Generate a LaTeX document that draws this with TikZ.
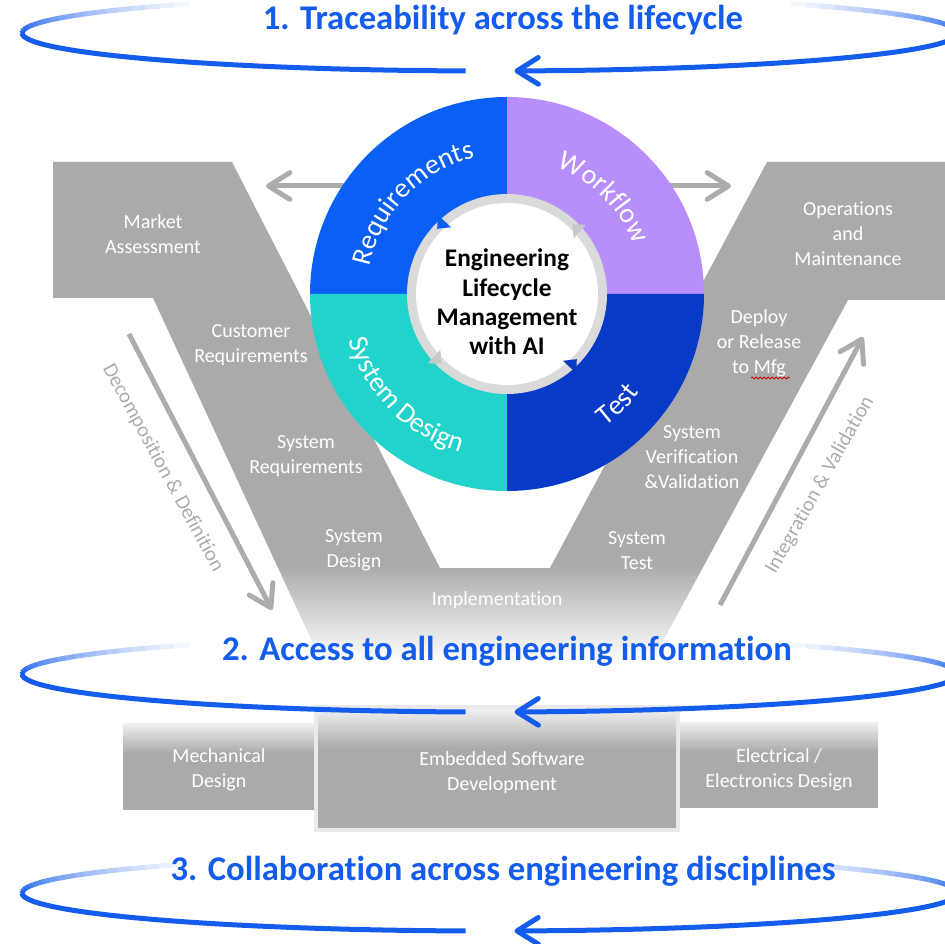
\documentclass[tikz,border=0pt]{standalone}
\usepackage{fontspec}
\setmainfont{Carlito}[Ligatures={TeX,NoCommon}, RawFeature={-liga;-clig;-calt;-dlig}]
\usetikzlibrary{arrows.meta}
\usetikzlibrary{decorations.text}
\usetikzlibrary{decorations.pathmorphing}
\tikzset{every picture/.style={line width=0.75pt}}

\definecolor{vgray}{RGB}{170,170,170}
\definecolor{boxtop}{RGB}{240,240,240}
\definecolor{titleblue}{RGB}{20,92,235}
\definecolor{reqblue}{RGB}{10,96,245}
\definecolor{wflilac}{RGB}{183,142,250}
\definecolor{sdteal}{RGB}{34,211,204}
\definecolor{testblue}{RGB}{8,58,200}
\definecolor{ringgray}{RGB}{218,218,218}
\definecolor{tipgray}{RGB}{200,200,200}
\definecolor{arrowgray}{RGB}{172,172,172}
\definecolor{framegray}{RGB}{234,234,234}

\newcommand{\ringfont}{\fontsize{21}{24}\selectfont}

\tikzset{
  vlabel/.style={text=white, align=center, inner sep=0.75pt, font=\fontsize{15}{18.75}\selectfont},
  sidetext/.style={text=arrowgray, inner sep=0.75pt, font=\fontsize{15.5}{18}\selectfont},
  title/.style={text=titleblue, inner sep=0.75pt, font=\bfseries\fontsize{26}{30}\selectfont},
  hubtext/.style={text=black, align=center, inner sep=0.75pt, font=\bfseries\fontsize{19}{22}\selectfont},
  ringtext/.style={decorate, decoration={text along path, text={|\ringfont|#1}, text align=center, text color=white}},
  barb/.style={-{Straight Barb[length=16pt,width=20pt,round]}},
  loopline/.style={draw=titleblue, line width=3.75pt},
  grayarrow/.style={draw=arrowgray, line width=3.75pt, barb},
  ringtip/.style={draw=ringgray, line width=6pt, -{Triangle[length=8pt,width=13pt,color=#1]}},
  boxfade/.style={top color=boxtop, bottom color=vgray}
}

\begin{document}
\begin{tikzpicture}[x=0.75pt,y=0.75pt,yscale=-1,xscale=1]
\useasboundingbox (0,0) rectangle (945,944);

%Shape: V model, fading out at the bottom
\begin{scope}
\clip (53,162) -- (232,162) -- (440,568) -- (550,568) -- (767,162) -- (945,162) -- (945,300) -- (848,300) -- (650,665) -- (323,665) -- (153,298) -- (53,298) -- cycle;
\fill [color=vgray] (0,150) rectangle (945,566);
\shade [top color=vgray, bottom color=white] (0,565) rectangle (945,662);
\end{scope}

%Shape: gray arrows beside the wheel
\coordinate (reqTail) at (345,186);
\coordinate (reqHead) at (266,186);
\coordinate (wfTail) at (668,186);
\coordinate (wfHead) at (731,186);
\draw [grayarrow] (reqTail) -- (reqHead);
\draw [grayarrow] (wfTail) -- (wfHead);

%Shape: side arrows of the V
\coordinate (decTail) at (129,334);
\coordinate (decHead) at (272,610);
\coordinate (intTail) at (720,605);
\coordinate (intHead) at (863,337);
\draw [grayarrow] (decTail) -- (decHead);
\draw [grayarrow] (intTail) -- (intHead);

% Text Node
\node [sidetext, rotate=-61.5] (decomp) at (163,468) {Decomposition \& Definition};
% Text Node
\node [sidetext, rotate=60.5] (integ) at (820,485) {Integration \& Validation};

%Shape: wheel quadrants
\fill [color=reqblue] (507,294) -- ++(-90:197) arc (-90:-180:197) -- cycle;
\fill [color=wflilac] (507,294) -- ++(0:197) arc (0:-90:197) -- cycle;
\fill [color=sdteal] (507,294) -- ++(180:197) arc (180:90:197) -- cycle;
\fill [color=testblue] (507,294) -- ++(90:197) arc (90:0:197) -- cycle;
%Shape: inner ring
\fill [color=ringgray] (507,294) circle (100);
\fill [color=white] (507,294) circle (91);
\draw [ringtip=reqblue] (507,294) ++(-123:95.5) arc (-123:-137:95.5);
\draw [ringtip=tipgray] (507,294) ++(-33:95.5) arc (-33:-47:95.5);
\draw [ringtip=tipgray] (507,294) ++(-213:95.5) arc (-213:-227:95.5);
\draw [ringtip=testblue] (507,294) ++(-303:95.5) arc (-303:-317:95.5);

%Curved labels of the wheel
\path [ringtext={Requirements}] (507,294) ++(-172:140) arc (-172:-100:140);
\path [ringtext={Workflow}] (507,294) ++(-74:136) arc (-74:-16:136);
\path [ringtext={System Design}] (507,294) ++(-186:165) arc (-186:-264:165);
\path [ringtext={Test}] (507,294) ++(-294:165) arc (-294:-336:165);

% Text Node
\node [hubtext] (hub) at (507,302) {Engineering\\Lifecycle\\Management\\with AI};

% Text Node
\node [vlabel] (mktAssess) at (153,234.5) {Market\\Assessment};
% Text Node
\node [vlabel] (custReq) at (251,345.5) {Customer\\Requirements};
% Text Node
\node [vlabel] (sysReq) at (306,456.5) {System\\Requirements};
% Text Node
\node [vlabel] (sysDesign) at (354,550.5) {System\\Design};
% Text Node
\node [vlabel] (impl) at (497,600) {Implementation};
% Text Node
\node [vlabel] (sysTest) at (637,550.5) {System\\Test};
% Text Node
\node [vlabel] (sysVV) at (692,457.5) {System\\Verification\\\&Validation};
% Text Node
\node [vlabel] (deploy) at (759,343.5) {Deploy\\or Release\\to Mfg};
% Text Node
\node [vlabel] (opsMaint) at (848,234) {Operations\\and\\Maintenance};
%Shape: spell-check squiggle
\draw [red!80!black, line width=0.6pt, decorate, decoration={snake, amplitude=0.7pt, segment length=3pt}] (751,378) -- (790,378);

%Shape: Rectangle, mechanical
\fill [color=vgray] (123,723) rectangle (315,810);
\shade [boxfade] (123,723) rectangle (315,753);
%Shape: Rectangle, electrical
\fill [color=vgray] (680,722) rectangle (878,808);
\shade [boxfade] (680,722) rectangle (878,752);
%Shape: Rectangle, embedded software
\draw [color=framegray, line width=3pt, fill=vgray] (316,707) rectangle (678,830);
\shade [boxfade] (318,709) rectangle (676,748);

% Text Node
\node [vlabel] (mechDes) at (219,769.5) {Mechanical\\Design};
% Text Node
\node [vlabel] (embSw) at (502,773) {Embedded Software\\Development};
% Text Node
\node [vlabel] (elecDes) at (779,769.5) {Electrical /\\Electronics Design};

%Curve: the three loops
\foreach \cy in {33,674,893}{
  \draw [loopline] (22,\cy) arc (180:93:468 and 38);
  \draw [loopline, barb] (958,\cy) arc (0:87:468 and 38);
  \foreach \i in {0,...,19}{
    \pgfmathsetmacro{\op}{1-\i/20}
    \draw [loopline, draw opacity=\op] (490,\cy) ++({180+2.5*\i}:468 and 38) arc ({180+2.5*\i}:{182.5+2.5*\i}:468 and 38);
    \draw [loopline, draw opacity=\op] (490,\cy) ++({-2.5*\i}:468 and 38) arc ({-2.5*\i}:{-2.5-2.5*\i}:468 and 38);
  }
}

% Text Node
\node [title] (trace) at (503,20) {1. Traceability across the lifecycle};
% Text Node
\node [title] (access) at (507,651) {2. Access to all engineering information};
% Text Node
\node [title] (collab) at (503,871) {3. Collaboration across engineering disciplines};

\end{tikzpicture}
\end{document}
